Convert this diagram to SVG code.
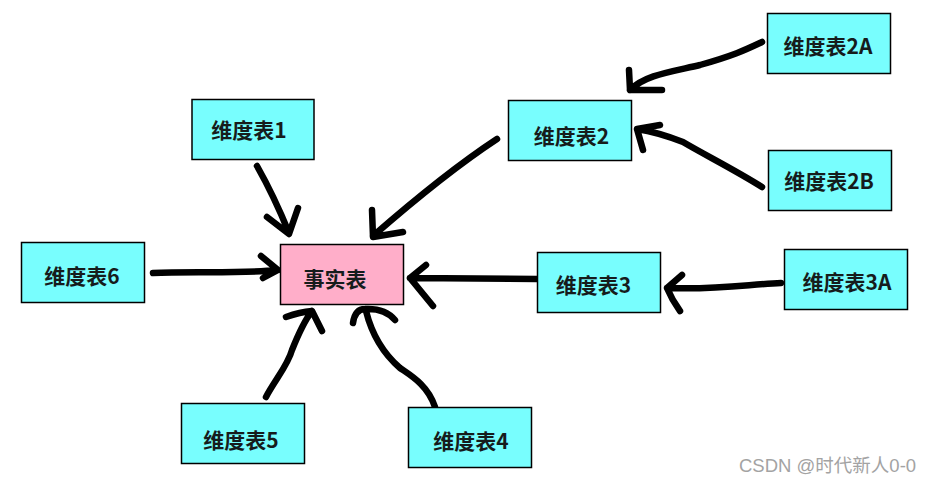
<svg xmlns="http://www.w3.org/2000/svg" width="935" height="485" viewBox="0 0 935 485">
<style>
.dim{fill:#78FEFE;stroke:#000;stroke-width:1.5}
.fact{fill:#FFAEC9;stroke:#000;stroke-width:1.5}
.lbl{font-family:"Noto Sans CJK SC","Noto Sans",sans-serif;font-size:21px;font-weight:bold;fill:#161c1c;text-anchor:middle}
.ink{fill:none;stroke:#000;stroke-width:6.5;stroke-linecap:round;stroke-linejoin:round}
.wm{font-family:"Liberation Sans","Noto Sans CJK SC",sans-serif;font-size:18.5px;fill:#a3a3a3}
</style>
<rect width="935" height="485" fill="#fff"/>
<g id="connectors">
<path class="ink" d="M257,166 Q274,196 289,233 M267,217 L289,234 L298,208"/>
<path class="ink" d="M497,139 C465,160 420,195 373,236 M372,210 L373,237 L403,232"/>
<path class="ink" d="M153,273 C190,271 240,274 278,270 M261,256 L278,270 L263,278"/>
<path class="ink" d="M537,279 L410,278 M426,265 L410,278 L433,306"/>
<path class="ink" d="M781,283 C750,284 720,290 667,288 M682,275 L667,288 Q672,300 680,311"/>
<path class="ink" d="M435,407 C428,385 410,375 400,368 C385,355 372,335 366,311 M353,323 Q355,309 365,309 Q385,308 395,320"/>
<path class="ink" d="M266,397 C275,380 288,365 292,350 C298,335 305,320 312,311 M286,317 Q300,312 312,311 L322,331"/>
<path class="ink" d="M762,42 C745,50 735,55 700,65 C670,72 645,75 630,90 M629,70 L630,90 L662,90"/>
<path class="ink" d="M762,187 C735,170 705,155 683,142 C665,135 650,131 637,129 M660,125 L637,129 L643,150"/>
</g>
<g id="fact"><rect class="fact" x="280.5" y="244.5" width="123" height="60"/><text class="lbl" x="335" y="287" fill="#1a1416">事实表</text></g>
<g id="dim1"><rect class="dim" x="192" y="99.5" width="122" height="60"/><text class="lbl" x="249" y="137.5">维度表1</text></g>
<g id="dim2"><rect class="dim" x="508.5" y="100.5" width="123" height="60"/><text class="lbl" x="571.5" y="143.5">维度表2</text></g>
<g id="dim2A"><rect class="dim" x="767.5" y="13.5" width="123" height="60"/><text class="lbl" x="828" y="54">维度表2A</text></g>
<g id="dim2B"><rect class="dim" x="768.5" y="150.5" width="123" height="60"/><text class="lbl" x="829" y="189">维度表2B</text></g>
<g id="dim3"><rect class="dim" x="537.5" y="252.5" width="123" height="60"/><text class="lbl" x="593.5" y="293">维度表3</text></g>
<g id="dim3A"><rect class="dim" x="784.5" y="249.5" width="123" height="60"/><text class="lbl" x="847" y="290">维度表3A</text></g>
<g id="dim4"><rect class="dim" x="408.5" y="407.5" width="123" height="60"/><text class="lbl" x="471" y="449">维度表4</text></g>
<g id="dim5"><rect class="dim" x="181.5" y="403.5" width="123" height="60"/><text class="lbl" x="241" y="447.5">维度表5</text></g>
<g id="dim6"><rect class="dim" x="21.5" y="242.5" width="123" height="60"/><text class="lbl" x="82" y="284">维度表6</text></g>
<text class="wm" x="739" y="472">CSDN @时代新人0-0</text>
</svg>
